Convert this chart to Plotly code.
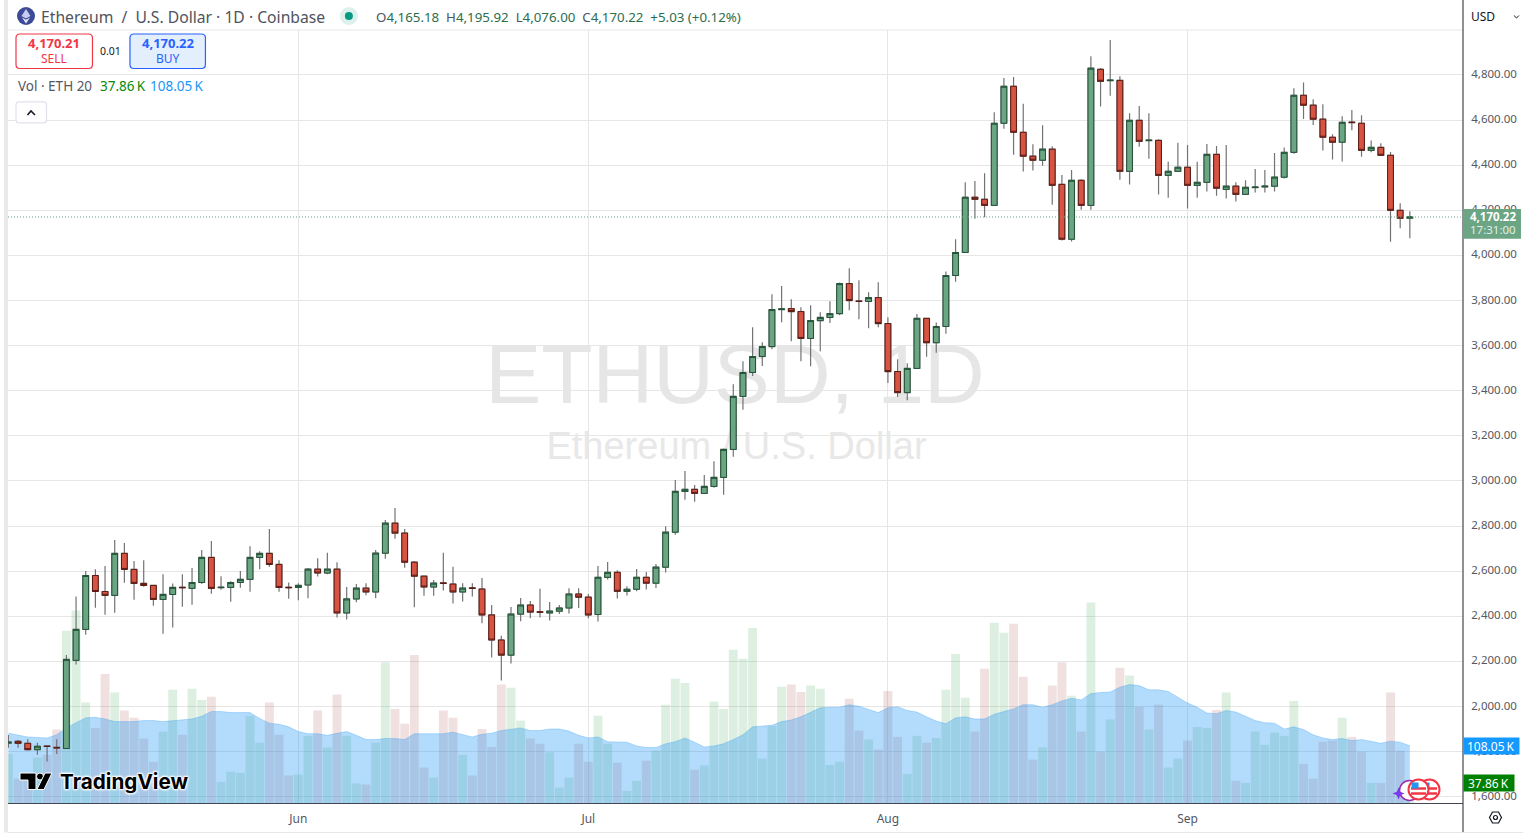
import pandas as pd
import plotly.graph_objects as go

# 2 May .. 24 Sep, one candle per day
dates = pd.date_range("2025-05-02", "2025-09-24", freq="D")

opens = [
    1838, 1846, 1837, 1809, 1825, 1819, 1814, 2205, 2342, 2581, 2510, 2493, 2679, 2608, 2546, 2537, 2475, 2497, 2529, 2524, 2550, 2661, 2527, 2528, 2550, 2564, 2661, 2679, 2630, 2529,
    2528, 2539, 2609, 2592, 2609, 2415, 2477, 2525, 2508, 2680, 2813, 2769, 2640, 2578, 2530, 2548, 2543, 2508, 2526, 2521, 2406, 2295, 2228, 2410, 2450, 2420, 2415, 2423, 2437, 2499,
    2485, 2408, 2573, 2595, 2511, 2520, 2573, 2547, 2618, 2773, 2954, 2963, 2945, 2976, 3016, 3140, 3375, 3481, 3552, 3596, 3760, 3764, 3751, 3632, 3711, 3725, 3742, 3875, 3798, 3796, 3813,
    3698, 3485, 3392, 3499, 3721, 3613, 3685, 3911, 4013, 4258, 4249, 4222, 4586, 4750, 4546, 4440, 4422, 4471, 4315, 4072, 4333, 4222, 4825, 4775, 4776, 4373, 4599, 4509, 4510, 4355, 4373,
    4391, 4311, 4324, 4448, 4293, 4307, 4271, 4301, 4304, 4307, 4347, 4457, 4710, 4666, 4604, 4524, 4502, 4591, 4586, 4466, 4479, 4444, 4200, 4165.18,
]
highs = [
    1874, 1852, 1855, 1839, 1826, 1855, 2229, 2488, 2601, 2609, 2623, 2738, 2725, 2645, 2649, 2537, 2587, 2546, 2587, 2614, 2694, 2734, 2578, 2556, 2601, 2711, 2689, 2787, 2649, 2550,
    2547, 2614, 2658, 2682, 2640, 2530, 2543, 2547, 2694, 2827, 2880, 2787, 2645, 2578, 2561, 2682, 2620, 2547, 2547, 2570, 2450, 2314, 2441, 2481, 2468, 2522, 2463, 2450, 2525, 2525,
    2499, 2623, 2641, 2604, 2533, 2610, 2597, 2632, 2799, 3004, 3044, 2982, 3026, 3088, 3144, 3429, 3531, 3682, 3615, 3828, 3864, 3806, 3770, 3779, 3748, 3797, 3880, 3943, 3890, 3837, 3881,
    3726, 3540, 3522, 3740, 3721, 3703, 3929, 4072, 4324, 4330, 4364, 4635, 4787, 4791, 4672, 4493, 4577, 4484, 4357, 4379, 4338, 4883, 4831, 4955, 4794, 4630, 4663, 4630, 4515, 4415, 4499,
    4490, 4415, 4494, 4485, 4490, 4324, 4333, 4383, 4379, 4454, 4479, 4741, 4767, 4692, 4670, 4537, 4617, 4645, 4621, 4510, 4497, 4459, 4231, 4195.92,
]
lows = [
    1817, 1817, 1805, 1786, 1756, 1790, 1812, 2186, 2318, 2438, 2407, 2416, 2549, 2474, 2531, 2447, 2323, 2350, 2443, 2451, 2543, 2500, 2518, 2465, 2527, 2509, 2609, 2620, 2509, 2478,
    2471, 2480, 2577, 2586, 2395, 2386, 2462, 2493, 2480, 2655, 2744, 2615, 2440, 2491, 2491, 2515, 2457, 2466, 2488, 2369, 2218, 2116, 2191, 2378, 2391, 2395, 2382, 2410, 2413, 2437,
    2391, 2377, 2563, 2479, 2492, 2511, 2519, 2526, 2594, 2762, 2917, 2908, 2945, 2970, 2939, 3107, 3316, 3465, 3510, 3584, 3704, 3620, 3531, 3509, 3575, 3700, 3735, 3757, 3717, 3677, 3682,
    3434, 3372, 3358, 3499, 3551, 3569, 3653, 3883, 4013, 4163, 4169, 4222, 4562, 4446, 4372, 4376, 4398, 4225, 4066, 4062, 4203, 4203, 4660, 4708, 4336, 4314, 4482, 4429, 4270, 4256, 4373,
    4208, 4256, 4283, 4265, 4252, 4239, 4271, 4279, 4279, 4283, 4341, 4451, 4605, 4578, 4465, 4425, 4416, 4555, 4438, 4457, 4444, 4061, 4121, 4076,
]
closes = [
    1842, 1837, 1809, 1824, 1823, 1817, 2209, 2342, 2581, 2510, 2493, 2679, 2608, 2546, 2537, 2475, 2497, 2528, 2527, 2550, 2661, 2524, 2529, 2550, 2564, 2661, 2679, 2630, 2528, 2527,
    2537, 2609, 2592, 2609, 2415, 2477, 2525, 2508, 2680, 2813, 2769, 2640, 2578, 2530, 2547, 2546, 2508, 2525, 2524, 2406, 2295, 2228, 2410, 2450, 2419, 2418, 2423, 2437, 2499, 2485,
    2406, 2573, 2595, 2511, 2520, 2573, 2547, 2618, 2773, 2954, 2963, 2945, 2976, 3016, 3140, 3375, 3481, 3552, 3596, 3760, 3763, 3751, 3632, 3711, 3725, 3742, 3875, 3800, 3796, 3813, 3698,
    3485, 3392, 3499, 3721, 3613, 3685, 3911, 4013, 4258, 4249, 4222, 4586, 4750, 4546, 4440, 4422, 4471, 4311, 4072, 4333, 4222, 4830, 4772, 4777, 4373, 4599, 4506, 4511, 4355, 4373, 4391,
    4311, 4324, 4448, 4298, 4307, 4271, 4302, 4303, 4307, 4347, 4457, 4710, 4666, 4604, 4524, 4502, 4590, 4589, 4466, 4479, 4444, 4200, 4165, 4170.22,
]
# volume in thousands of ETH
volumes = [
    93, 46, 46, 86, 91, 139, 326, 364, 190, 142, 244, 209, 175, 161, 122, 78, 135, 214, 129, 216, 195, 201, 40, 59, 57, 165, 114, 190, 129, 52,
    54, 127, 175, 105, 205, 127, 37, 35, 114, 266, 178, 150, 280, 67, 48, 175, 161, 91, 52, 140, 106, 224, 218, 156, 122, 112, 96, 29, 48, 112,
    78, 165, 112, 76, 23, 42, 80, 99, 186, 235, 227, 63, 71, 192, 178, 290, 273, 331, 84, 146, 220, 224, 210, 222, 216, 72, 78, 197, 137, 120, 101,
    212, 125, 55, 127, 114, 123, 214, 282, 199, 135, 254, 341, 322, 339, 239, 82, 105, 222, 266, 203, 135, 379, 97, 158, 256, 241, 182, 139, 186, 67, 84,
    118, 144, 142, 176, 209, 42, 38, 135, 110, 133, 127, 193, 74, 46, 116, 118, 161, 125, 97, 38, 38, 209, 99, 37.86,
]
volume_ma = [
    132, 129, 125, 124, 123, 129, 142, 152, 161, 162, 159, 154, 154, 154, 156, 156, 154, 156, 157, 159, 164, 173, 173, 171, 171, 171, 160, 151, 149, 144,
    135, 131, 131, 128, 132, 135, 128, 120, 120, 122, 122, 120, 131, 131, 130, 131, 134, 129, 125, 130, 132, 137, 139, 142, 137, 137, 140, 140, 136, 128,
    123, 125, 116, 116, 115, 108, 105, 105, 112, 116, 123, 115, 106, 108, 112, 120, 129, 144, 146, 147, 154, 157, 163, 171, 180, 181, 181, 186, 183, 177, 171,
    180, 182, 175, 172, 163, 155, 150, 161, 163, 159, 159, 168, 173, 178, 186, 186, 181, 186, 193, 198, 195, 207, 209, 210, 219, 224, 222, 214, 214, 211, 200,
    189, 181, 170, 169, 175, 172, 164, 156, 152, 151, 140, 144, 139, 129, 123, 120, 122, 118, 120, 117, 113, 117, 115, 108.05,
]

price_ticks = list(range(1600, 5000, 200))
month_ticks = ["2025-06-01", "2025-07-01", "2025-08-01", "2025-09-01"]
month_labels = ["Jun", "Jul", "Aug", "Sep"]

W, H = 1524, 835
L, R, T, B = 8, 1463.5, 30, 803.5
UI_FONT = "Noto Sans"
UP, DOWN = "#6ba583", "#d75442"


def px(x):
    return (x - L) / (R - L)


def py(y):
    return (B - y) / (B - T)


shapes = []
annotations = []


def box(x0, y0, x1, y1, fill=None, line=None, lw=1, kind="rect"):
    shapes.append(dict(type=kind, xref="paper", yref="paper", x0=px(x0), x1=px(x1), y0=py(y0), y1=py(y1),
                       fillcolor=fill or "rgba(0,0,0,0)", line=dict(color=line or "rgba(0,0,0,0)", width=lw if line else 0)))


def path(points, fill=None, line=None, lw=1, close=True):
    d = "M" + " L".join(f"{px(a):.5f},{py(b):.5f}" for a, b in points) + (" Z" if close else "")
    shapes.append(dict(type="path", xref="paper", yref="paper", path=d, fillcolor=fill or "rgba(0,0,0,0)",
                       line=dict(color=line or "rgba(0,0,0,0)", width=lw if line else 0)))


def rounded(x0, y0, x1, y1, r, fill, line):
    a0, a1, b0, b1 = px(x0), px(x1), py(y0), py(y1)
    rx, ry = r / (R - L), r / (B - T)
    d = (f"M{a0 + rx},{b0} L{a1 - rx},{b0} Q{a1},{b0} {a1},{b0 - ry} L{a1},{b1 + ry} Q{a1},{b1} {a1 - rx},{b1} "
         f"L{a0 + rx},{b1} Q{a0},{b1} {a0},{b1 + ry} L{a0},{b0 - ry} Q{a0},{b0} {a0 + rx},{b0} Z")
    shapes.append(dict(type="path", xref="paper", yref="paper", path=d, fillcolor=fill, line=dict(color=line, width=1.2)))


def label(x, y, text, size=13, color="#434651", anchor="left", family=UI_FONT, **font_extra):
    annotations.append(dict(xref="paper", yref="paper", x=px(x), y=py(y), text=text, showarrow=False,
                            xanchor=anchor, yanchor="middle", borderpad=0,
                            font=dict(family=family, size=size, color=color, **font_extra)))


vol_colors = ["rgba(100,180,120,0.22)" if c >= o else "rgba(160,60,60,0.16)" for o, c in zip(opens, closes)]
body_high = [max(o, c) for o, c in zip(opens, closes)]
body_low = [min(o, c) for o, c in zip(opens, closes)]

fig = go.Figure()
fig.add_trace(go.Bar(x=dates, y=volumes, marker=dict(color=vol_colors, line=dict(width=0)), yaxis="y", hoverinfo="skip"))
fig.add_trace(go.Scatter(x=dates, y=volume_ma, mode="lines", fill="tozeroy", fillcolor="rgba(33,150,243,0.34)",
                         line=dict(color="rgba(33,150,243,0.28)", width=1), yaxis="y", hoverinfo="skip"))
# watermark sits in the volume layer so the candles are drawn over it
fig.add_trace(go.Scatter(x=["2025-07-16 04:00"], y=[796], mode="text", text=["ETHUSD, 1D"], textposition="middle center",
                         textfont=dict(family="Liberation Sans", size=84, color="#e6e6e6"), yaxis="y", hoverinfo="skip"))
fig.add_trace(go.Scatter(x=["2025-07-16 08:00"], y=[669], mode="text", text=["Ethereum / U.S. Dollar"], textposition="middle center",
                         textfont=dict(family="Liberation Sans", size=38, color="#e8e8e8"), yaxis="y", hoverinfo="skip"))

# grey wicks first, then bodies with their dark outline
fig.add_trace(go.Candlestick(x=dates, open=opens, high=highs, low=lows, close=closes, yaxis="y2",
                             increasing=dict(line=dict(color="#737375", width=1.2), fillcolor=UP),
                             decreasing=dict(line=dict(color="#737375", width=1.2), fillcolor=DOWN), hoverinfo="skip"))
fig.add_trace(go.Candlestick(x=dates, open=opens, high=body_high, low=body_low, close=closes, yaxis="y2",
                             increasing=dict(line=dict(color="#225437", width=1), fillcolor=UP),
                             decreasing=dict(line=dict(color="#5b1a13", width=1), fillcolor=DOWN)))

# frame
box(4, 0, 8, 833, fill="#e9e9e9")
path([(8, 30), (1463.5, 30)], line="#e6e6e6", close=False)
path([(8, 804), (1463.5, 804)], line="#434651", lw=1.2, close=False)
path([(1463.5, 0), (1463.5, 833)], line="#434651", lw=1.2, close=False)
path([(8, 833), (1524, 833)], line="#e6e6e6", close=False)

# last price line
shapes.append(dict(type="line", xref="paper", yref="y2", x0=0, x1=1, y0=closes[-1], y1=closes[-1],
                   line=dict(color=UP, width=1, dash="1px,2px")))

# header
box(17, 7, 35, 25, fill="#3d4a98", kind="circle")
path([(26, 9), (30.5, 16), (26, 18.5), (21.5, 16)], fill="#c6cdf0")
path([(26, 19.8), (30, 17.5), (26, 23.5), (22, 17.5)], fill="#e6e9fa")
label(40, 17, "Ethereum  /  U.S. Dollar · 1D · Coinbase", size=15.7, color="#50535e")
box(340, 7, 358, 25, fill="#dcf1ec", kind="circle")
box(345, 12, 353, 20, fill="#089981", kind="circle")
V = "#2b6e4e"
G = "#50535e"
label(375, 17, (f"<span style='color:{G}'>O</span>4,165.18  <span style='color:{G}'>H</span>4,195.92  "
                f"<span style='color:{G}'>L</span>4,076.00  <span style='color:{G}'>C</span>4,170.22  +5.03 (+0.12%)"),
      size=13.3, color=V)

# sell / buy
rounded(16, 34, 92.5, 68.5, 4, "#ffffff", "#f23645")
label(54.5, 43.5, "<b>4,170.21</b>", size=13, color="#f23645", anchor="center")
label(54.5, 58.5, "SELL", size=12, color="#f23645", anchor="center")
label(111, 51, "0.01", size=10.5, color="#131722", anchor="center")
rounded(130, 34, 205.5, 68.5, 4, "#e3effd", "#2962ff")
label(168, 43.5, "<b>4,170.22</b>", size=13, color="#2962ff", anchor="center")
label(168, 58.5, "BUY", size=12, color="#2962ff", anchor="center")

# volume legend
label(17, 86.5, "Vol · ETH 20", size=13.5, color="#555862")
label(99, 86.5, "37.86\u2009K", size=13.5, color="#088a08")
label(149, 86.5, "108.05\u2009K", size=13.5, color="#2196f3")
rounded(16, 102, 46.5, 123, 3, "#ffffff", "#e0e3eb")
path([(27.5, 115), (31, 111), (35, 115)], line="#131722", lw=1.5, close=False)

# currency
label(1471, 16.5, "USD", size=12, color="#131722")
path([(1514.5, 15.5), (1517, 18), (1519.5, 15.5)], line="#131722", lw=1, close=False)

# TradingView logo
path([(20, 773.5), (36, 773.5), (36, 790), (28, 790), (28, 780.5), (20, 780.5)], fill="#000000", line="#ffffff", lw=1)
box(36.5, 773.5, 43.5, 780.5, fill="#000000", line="#ffffff", kind="circle")
path([(45, 773.5), (52, 773.5), (44, 790), (37, 790)], fill="#000000", line="#ffffff", lw=1)
label(59, 781.5, "<b>TradingView</b>", size=20.7, color="#000000", family="Inter",
      shadow="1px 1px 2px #fff, -1px -1px 2px #fff, 1px -1px 2px #fff, -1px 1px 2px #fff")

# event icons
box(1400, 781, 1420, 801, fill="#ffffff", line="#9c27b0", lw=1.5, kind="circle")
path([(1399, 788), (1400.7, 792.3), (1405, 794), (1400.7, 795.7), (1399, 800), (1397.3, 795.7), (1393, 794), (1397.3, 792.3)], fill="#7c3aed")
for cx in (1430, 1419):
    box(cx - 10, 780, cx + 10, 800, fill="#ffffff", line="#f23645", lw=2, kind="circle")
    for sy in (789, 794):
        path([(cx - 7.5, sy), (cx + 7.5, sy)], line="#f23645", lw=2.5, close=False)
    box(cx - 7, 783, cx, 789, fill="#2196f3")

# price tags
box(1464, 209, 1521.5, 239, fill=UP)
label(1518, 217, "<b>4,170.22</b>", size=11.5, color="#ffffff", anchor="right")
label(1518, 230, "17:31:00", size=11.5, color="#e3efe8", anchor="right")
box(1464, 738, 1520, 755, fill="#1499ff")
label(1517, 746.5, "108.05\u2009K", size=12, color="#ffffff", anchor="right")
box(1464, 775, 1515, 792, fill="#008000")
label(1511, 783.5, "37.86\u2009K", size=12, color="#ffffff", anchor="right")

# settings button
path([(1490, 818), (1493, 812.5), (1499, 812.5), (1502, 818), (1499, 823.5), (1493, 823.5)], line="#131722", lw=1.2)
box(1494, 816, 1498, 820, line="#131722", lw=1.2, kind="circle")

fig.update_layout(
    width=W, height=H,
    margin=dict(l=L, r=W - R, t=T, b=H - B, autoexpand=False),
    paper_bgcolor="#ffffff", plot_bgcolor="#ffffff",
    showlegend=False, bargap=0.08, boxgap=0.15, boxmode="overlay", hovermode=False,
    shapes=shapes, annotations=annotations,
    xaxis=dict(type="date", range=["2025-05-01 23:00", "2025-09-29 12:00"], rangeslider=dict(visible=False),
               tickvals=month_ticks, ticktext=month_labels, tickangle=0, showgrid=True, gridcolor="#e6e6e6", gridwidth=1,
               ticks="outside", ticklen=5, tickcolor="rgba(0,0,0,0)", zeroline=False,
               tickfont=dict(family=UI_FONT, size=12, color="#555862")),
    yaxis=dict(range=[0, 1462], visible=False, fixedrange=True),
    yaxis2=dict(overlaying="y", side="right", anchor="x", range=[1572.4, 4999.4], tickvals=price_ticks,
                tickformat=",.2f", showgrid=True, gridcolor="#e6e6e6", gridwidth=1, zeroline=False,
                ticks="outside", ticklen=5, tickcolor="rgba(0,0,0,0)", ticklabelshift=-1,
                tickfont=dict(family=UI_FONT, size=11.5, color="#555862")),
)

fig.write_html("out.html", config=dict(displayModeBar=False),
               post_script="document.body.style.margin='0';document.body.style.overflow='hidden';")
